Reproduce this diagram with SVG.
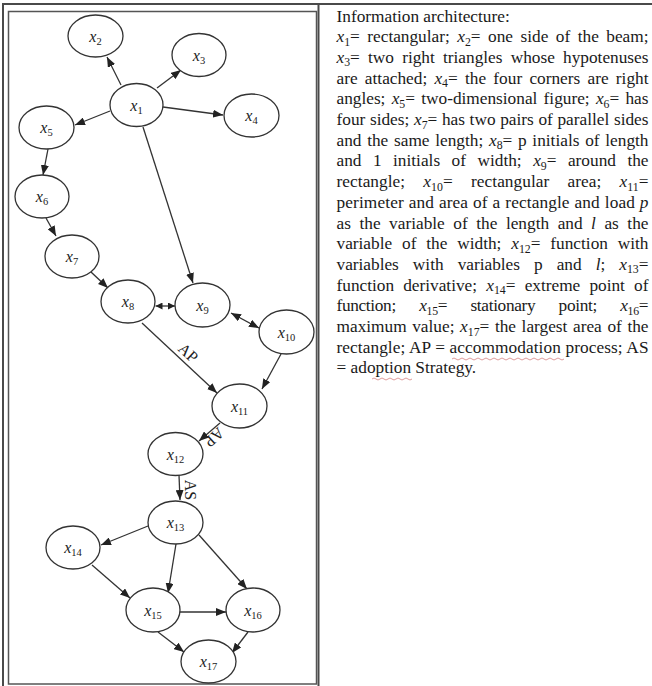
<svg xmlns="http://www.w3.org/2000/svg" width="652" height="686" viewBox="0 0 652 686">
<style>
.frame{fill:none;stroke:#4a4a4a;stroke-width:2}
.panel{fill:#ffffff;stroke:#555;stroke-width:1.5}
.node ellipse{fill:#fff;stroke:#333;stroke-width:1.3}
.node text{font-family:"Liberation Serif","Times New Roman",serif;font-size:16px;fill:#222;text-anchor:middle}
.node .ni{font-style:italic}
.node .ns{font-size:10.5px}
.edges line{stroke:#333;stroke-width:1.3;marker-end:url(#ah)}
.edges line.dbl{marker-start:url(#ahs)}
.edges line.sm{marker-start:url(#ahss);marker-end:url(#ahse)}
.el{font-family:"Liberation Serif","Times New Roman",serif;font-size:16px;fill:#222;text-anchor:middle}
.t{font-family:"Liberation Serif","Times New Roman",serif;font-size:17.3px;fill:#1a1a1a}
.i{font-style:italic}
.s{font-size:11.8px}
.sq{fill:none;stroke:#d07070;stroke-width:1;opacity:0.7}
</style>
<defs>
<marker id="ah" markerUnits="userSpaceOnUse" markerWidth="10" markerHeight="8" refX="10" refY="4" orient="auto"><path d="M0,0 L10,4 L0,8 z" fill="#222"/></marker>
<marker id="ahs" markerUnits="userSpaceOnUse" markerWidth="10" markerHeight="8" refX="10" refY="4" orient="auto-start-reverse"><path d="M0,0 L10,4 L0,8 z" fill="#222"/></marker>
<marker id="ahse" markerUnits="userSpaceOnUse" markerWidth="7" markerHeight="7" refX="7" refY="3.5" orient="auto"><path d="M0,0 L7,3.5 L0,7 z" fill="#222"/></marker>
<marker id="ahss" markerUnits="userSpaceOnUse" markerWidth="7" markerHeight="7" refX="7" refY="3.5" orient="auto-start-reverse"><path d="M0,0 L7,3.5 L0,7 z" fill="#222"/></marker>
</defs>
<rect width="652" height="686" fill="#fff"/>
<path class="frame" d="M3,686 L3,4 L652,4 M318.5,4 L318.5,686"/>
<rect class="panel" x="8.5" y="11.5" width="308" height="672.5"/>

<g class="edges">
<line x1="121" y1="85" x2="107" y2="57"/>
<line x1="157" y1="88" x2="181" y2="70"/>
<line x1="163" y1="107" x2="223" y2="115"/>
<line x1="110" y1="111" x2="75" y2="125"/>
<line x1="48" y1="149" x2="43" y2="175"/>
<line x1="46" y1="218" x2="56" y2="236"/>
<line x1="143" y1="127" x2="193" y2="283"/>
<line x1="91" y1="272" x2="108" y2="288"/>
<line class="sm" x1="155.5" y1="306" x2="175" y2="306"/>
<line class="dbl" x1="231" y1="313" x2="259" y2="328"/>
<line x1="142" y1="323" x2="217" y2="393"/>
<line x1="281" y1="354" x2="262" y2="389"/>
<line x1="220" y1="423" x2="199" y2="441"/>
<line x1="179" y1="475" x2="180" y2="500"/>
<line x1="148" y1="526" x2="101" y2="545"/>
<line x1="176" y1="544" x2="168" y2="593"/>
<line x1="199" y1="535" x2="247" y2="589"/>
<line x1="92" y1="565" x2="130" y2="598"/>
<line x1="180" y1="612" x2="226" y2="612"/>
<line x1="158" y1="632" x2="184" y2="652"/>
<line x1="248" y1="632" x2="232" y2="653"/>
<text class="el" transform="translate(188,353) rotate(43)" x="0" y="5">AP</text>
<text class="el" transform="translate(214,437) rotate(138)" x="0" y="5">AP</text>
<text class="el" transform="translate(190,490) rotate(90)" x="0" y="5">AS</text>
</g>

<g id="x1" class="node"><ellipse cx="136.5" cy="105" rx="26.5" ry="21.5"/><text x="136.5" y="110.5"><tspan class="ni">x</tspan><tspan class="ns" dy="3">1</tspan></text></g>
<g id="x2" class="node"><ellipse cx="95.5" cy="36" rx="27.5" ry="21"/><text x="95.5" y="41.5"><tspan class="ni">x</tspan><tspan class="ns" dy="3">2</tspan></text></g>
<g id="x3" class="node"><ellipse cx="199" cy="55" rx="27" ry="21.5"/><text x="199" y="60.5"><tspan class="ni">x</tspan><tspan class="ns" dy="3">3</tspan></text></g>
<g id="x4" class="node"><ellipse cx="251.5" cy="115.5" rx="27.5" ry="21.5"/><text x="251.5" y="121"><tspan class="ni">x</tspan><tspan class="ns" dy="3">4</tspan></text></g>
<g id="x5" class="node"><ellipse cx="46.5" cy="127.5" rx="27.5" ry="21.5"/><text x="46.5" y="133"><tspan class="ni">x</tspan><tspan class="ns" dy="3">5</tspan></text></g>
<g id="x6" class="node"><ellipse cx="42" cy="196.5" rx="27" ry="21.5"/><text x="42" y="202"><tspan class="ni">x</tspan><tspan class="ns" dy="3">6</tspan></text></g>
<g id="x7" class="node"><ellipse cx="72" cy="256.5" rx="27" ry="21.5"/><text x="72" y="262"><tspan class="ni">x</tspan><tspan class="ns" dy="3">7</tspan></text></g>
<g id="x8" class="node"><ellipse cx="128" cy="301.5" rx="27" ry="21.5"/><text x="128" y="307"><tspan class="ni">x</tspan><tspan class="ns" dy="3">8</tspan></text></g>
<g id="x9" class="node"><ellipse cx="202.5" cy="305" rx="27.5" ry="22"/><text x="202.5" y="310.5"><tspan class="ni">x</tspan><tspan class="ns" dy="3">9</tspan></text></g>
<g id="x10" class="node"><ellipse cx="286.5" cy="332" rx="27.5" ry="22"/><text x="286.5" y="337.5"><tspan class="ni">x</tspan><tspan class="ns" dy="3">10</tspan></text></g>
<g id="x11" class="node"><ellipse cx="239.5" cy="406" rx="27.5" ry="22"/><text x="239.5" y="411.5"><tspan class="ni">x</tspan><tspan class="ns" dy="3">11</tspan></text></g>
<g id="x12" class="node"><ellipse cx="175.5" cy="454" rx="27.5" ry="21.5"/><text x="175.5" y="459.5"><tspan class="ni">x</tspan><tspan class="ns" dy="3">12</tspan></text></g>
<g id="x13" class="node"><ellipse cx="175.5" cy="522.5" rx="27.5" ry="21.5"/><text x="175.5" y="528"><tspan class="ni">x</tspan><tspan class="ns" dy="3">13</tspan></text></g>
<g id="x14" class="node"><ellipse cx="73" cy="547.5" rx="27" ry="21.5"/><text x="73" y="553"><tspan class="ni">x</tspan><tspan class="ns" dy="3">14</tspan></text></g>
<g id="x15" class="node"><ellipse cx="153" cy="610" rx="27" ry="22"/><text x="153" y="615.5"><tspan class="ni">x</tspan><tspan class="ns" dy="3">15</tspan></text></g>
<g id="x16" class="node"><ellipse cx="253" cy="610" rx="27" ry="22"/><text x="253" y="615.5"><tspan class="ni">x</tspan><tspan class="ns" dy="3">16</tspan></text></g>
<g id="x17" class="node"><ellipse cx="208.5" cy="661.5" rx="27.5" ry="21.5"/><text x="208.5" y="667"><tspan class="ni">x</tspan><tspan class="ns" dy="3">17</tspan></text></g>

<g id="legend">
<text class="t" x="336.5" y="21.5">Information architecture:</text>
<text class="t" x="336.5" y="42.2" textLength="312" lengthAdjust="spacing" word-spacing="3.17"><tspan class="i">x</tspan><tspan class="s" dy="3.5">1</tspan><tspan dy="-3.5">= rectangular; </tspan><tspan class="i">x</tspan><tspan class="s" dy="3.5">2</tspan><tspan dy="-3.5">= one side of the beam;</tspan></text>
<text class="t" x="336.5" y="62.9" textLength="312" lengthAdjust="spacing" word-spacing="3.86"><tspan class="i">x</tspan><tspan class="s" dy="3.5">3</tspan><tspan dy="-3.5">= two right triangles whose hypotenuses</tspan></text>
<text class="t" x="336.5" y="83.6" textLength="312" lengthAdjust="spacing" word-spacing="2.91">are attached; <tspan class="i">x</tspan><tspan class="s" dy="3.5">4</tspan><tspan dy="-3.5">= the four corners are right</tspan></text>
<text class="t" x="336.5" y="104.3" textLength="312" lengthAdjust="spacing" word-spacing="1.94">angles; <tspan class="i">x</tspan><tspan class="s" dy="3.5">5</tspan><tspan dy="-3.5">= two-dimensional figure; </tspan><tspan class="i">x</tspan><tspan class="s" dy="3.5">6</tspan><tspan dy="-3.5">= has</tspan></text>
<text class="t" x="336.5" y="125" textLength="312" lengthAdjust="spacing" word-spacing="0.31">four sides; <tspan class="i">x</tspan><tspan class="s" dy="3.5">7</tspan><tspan dy="-3.5">= has two pairs of parallel sides</tspan></text>
<text class="t" x="336.5" y="145.7" textLength="312" lengthAdjust="spacing" word-spacing="1.39">and the same length; <tspan class="i">x</tspan><tspan class="s" dy="3.5">8</tspan><tspan dy="-3.5">= p initials of length</tspan></text>
<text class="t" x="336.5" y="166.4" textLength="312" lengthAdjust="spacing" word-spacing="7.16">and 1 initials of width; <tspan class="i">x</tspan><tspan class="s" dy="3.5">9</tspan><tspan dy="-3.5">= around the</tspan></text>
<text class="t" x="336.5" y="187.1" textLength="312" lengthAdjust="spacing" word-spacing="13.8">rectangle; <tspan class="i">x</tspan><tspan class="s" dy="3.5">10</tspan><tspan dy="-3.5">= rectangular area; </tspan><tspan class="i">x</tspan><tspan class="s" dy="3.5">11</tspan><tspan dy="-3.5">=</tspan></text>
<text class="t" x="336.5" y="207.8" textLength="312" lengthAdjust="spacing" word-spacing="0.46">perimeter and area of a rectangle and load <tspan class="i">p</tspan></text>
<text class="t" x="336.5" y="228.5" textLength="312" lengthAdjust="spacing" word-spacing="4.18">as the variable of the length and <tspan class="i">l</tspan> as the</text>
<text class="t" x="336.5" y="249.2" textLength="312" lengthAdjust="spacing" word-spacing="5.57">variable of the width; <tspan class="i">x</tspan><tspan class="s" dy="3.5">12</tspan><tspan dy="-3.5">= function with</tspan></text>
<text class="t" x="336.5" y="269.9" textLength="312" lengthAdjust="spacing" word-spacing="9.73">variables with variables p and <tspan class="i">l</tspan>; <tspan class="i">x</tspan><tspan class="s" dy="3.5">13</tspan><tspan dy="-3.5">=</tspan></text>
<text class="t" x="336.5" y="290.6" textLength="312" lengthAdjust="spacing" word-spacing="4.86">function derivative; <tspan class="i">x</tspan><tspan class="s" dy="3.5">14</tspan><tspan dy="-3.5">= extreme point of</tspan></text>
<text class="t" x="336.5" y="311.3" textLength="312" lengthAdjust="spacing" word-spacing="19.35">function; <tspan class="i">x</tspan><tspan class="s" dy="3.5">15</tspan><tspan dy="-3.5">= stationary point; </tspan><tspan class="i">x</tspan><tspan class="s" dy="3.5">16</tspan><tspan dy="-3.5">=</tspan></text>
<text class="t" x="336.5" y="332" textLength="312" lengthAdjust="spacing" word-spacing="1.27">maximum value; <tspan class="i">x</tspan><tspan class="s" dy="3.5">17</tspan><tspan dy="-3.5">= the largest area of the</tspan></text>
<text class="t" x="336.5" y="352.7" textLength="312" lengthAdjust="spacing" word-spacing="0.2">rectangle; AP = accommodation process; AS</text>
<text class="t" x="336.5" y="373.4">= adoption Strategy.</text>
<path class="sq" d="M452,359 q2,-2 4,0 t4,0 t4,0 t4,0 t4,0 t4,0 t4,0 t4,0 t4,0 t4,0 t4,0 t4,0 t4,0 t4,0 t4,0 t4,0 t4,0 t4,0 t4,0 t4,0 t4,0 t4,0 t4,0 t4,0 t4,0 t4,0 t4,0 t4,0"/>
<path class="sq" d="M372,379 q2,-2 4,0 t4,0 t4,0 t4,0 t4,0 t4,0 t4,0 t4,0 t4,0 t4,0"/>
</g>
</svg>
